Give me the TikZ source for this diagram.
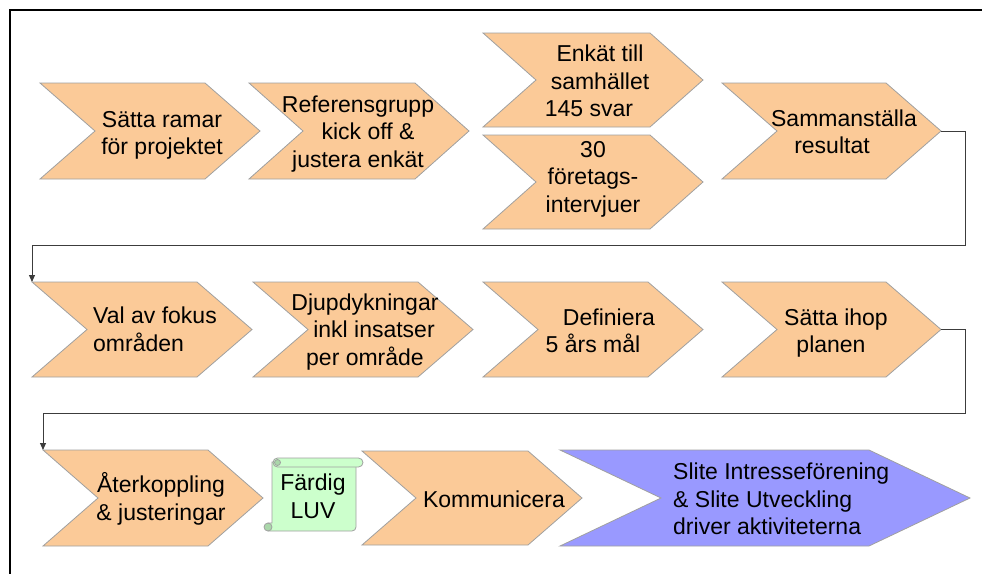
\documentclass[tikz,border=0pt]{standalone}
\usepackage{fontspec}
\setmainfont{Liberation Sans}
\usetikzlibrary{arrows.meta}
\definecolor{chevorange}{RGB}{251,202,152}
\definecolor{chevblue}{RGB}{153,153,255}
\definecolor{scrollgreen}{RGB}{204,255,204}
\definecolor{scrolldark}{RGB}{170,215,170}
\definecolor{edgegray}{RGB}{160,160,160}
\definecolor{conngray}{RGB}{60,60,60}
\newcommand{\chevshape}[7]{%
  \filldraw[#7] (#2,#4) -- ({#3-#6},#4) -- (#3,{(#4+#5)/2}) -- ({#3-#6},#5) -- (#2,#5) -- ({#2+#6},{(#4+#5)/2}) -- cycle;
  \coordinate (#1tip) at (#3,{(#4+#5)/2});
  \coordinate (#1tl) at (#2,#4);
}
\begin{document}
\begin{tikzpicture}[x=1pt,y=-1pt,
  orangechev/.style={fill=chevorange,draw=edgegray,line width=0.8pt},
  bluechev/.style={fill=chevblue,draw=edgegray,line width=0.8pt},
  txt/.style={font=\fontsize{23}{27.5}\selectfont,inner sep=0pt,anchor=base,align=center,text=black},
  ltxt/.style={txt,anchor=base west,align=left},
  conn/.style={draw=conngray,line width=1pt,-{Triangle[length=7pt,width=6pt]}},
  scrollsty/.style={fill=scrollgreen,draw=edgegray,line width=0.8pt}]
\useasboundingbox (0,0) rectangle (982,573);
% frame
\draw[line width=2pt,black] (10,580) -- (10,10) -- (990,10);
% row 1
\chevshape{c1}{40}{260}{83}{179}{55}{orangechev}
\chevshape{c2}{249}{469}{83}{179}{54}{orangechev}
\chevshape{c3}{483}{703}{33}{127}{53}{orangechev}
\chevshape{c4}{483}{703}{135}{229}{53}{orangechev}
\chevshape{c5}{722}{941}{83}{179}{55}{orangechev}
% row 2
\chevshape{c6}{32}{252}{282}{377}{55}{orangechev}
\chevshape{c7}{253}{473}{282}{377}{55}{orangechev}
\chevshape{c8}{483}{703}{282}{377}{55}{orangechev}
\chevshape{c9}{722}{941}{282}{377}{55}{orangechev}
% row 3
\chevshape{c10}{43}{263}{450}{546}{55}{orangechev}
\chevshape{c11}{362}{582}{451}{545}{54}{orangechev}
\chevshape{c12}{560}{970}{450}{546}{101}{bluechev}
% scroll
\filldraw[scrollsty] (272,462) -- (356,462) [rounded corners=4pt] -- (356,531) [sharp corners] -- (268,531) -- (268,523) -- (272,523) -- cycle;
\filldraw[fill=scrolldark,draw=edgegray,line width=0.8pt] (268,527) circle (4);
\filldraw[scrollsty,rounded corners=4.5pt] (273,458) rectangle (363,467);
\filldraw[fill=scrolldark,draw=edgegray,line width=0.8pt] (277.5,462.5) circle (3);
% texts (anchor = baseline of last line)
\node[txt] (t1) at (162,154.5) {Sätta ramar\\för projektet};
\node[txt] (t2) at (358,167) {Referensgrupp\\\hspace*{20pt}kick off \&\\justera enkät};
\node[txt] (t3) at (600,116.5) {Enkät till\\samhället\\145 svar\hspace*{22pt}};
\node[txt] (t4) at (593,212) {30\\företags-\\intervjuer};
\node[txt] (t5) at (844,153.5) {Sammanställa\\resultat\hspace*{24pt}};
\node[ltxt] (t6) at (93,351) {Val av fokus\\områden};
\node[txt] (t7) at (365,365) {Djupdykningar\\\hspace*{18pt}inkl insatser\\per område};
\node[txt] (t8) at (601,352.5) {\hspace*{16pt}Definiera\\5 års mål\hspace*{16pt}};
\node[txt] (t9) at (836,352.5) {Sätta ihop\\planen\hspace*{10pt}};
\node[txt] (t10) at (161,520) {Återkoppling\\\& justeringar};
\node[txt] (ts) at (313,518) {Färdig\\LUV};
\node[txt] (t11) at (494,507) {Kommunicera};
\node[ltxt] (t12) at (673,534.5) {Slite Intresseförening\\\& Slite Utveckling\\driver aktiviteterna};
% connectors
\draw[conn] (c5tip) -- ++(24,0) -- ++(0,114) -| (c6tl);
\draw[conn] (c9tip) -- ++(24,0) -- ++(0,84) -| (c10tl);
\end{tikzpicture}
\end{document}
